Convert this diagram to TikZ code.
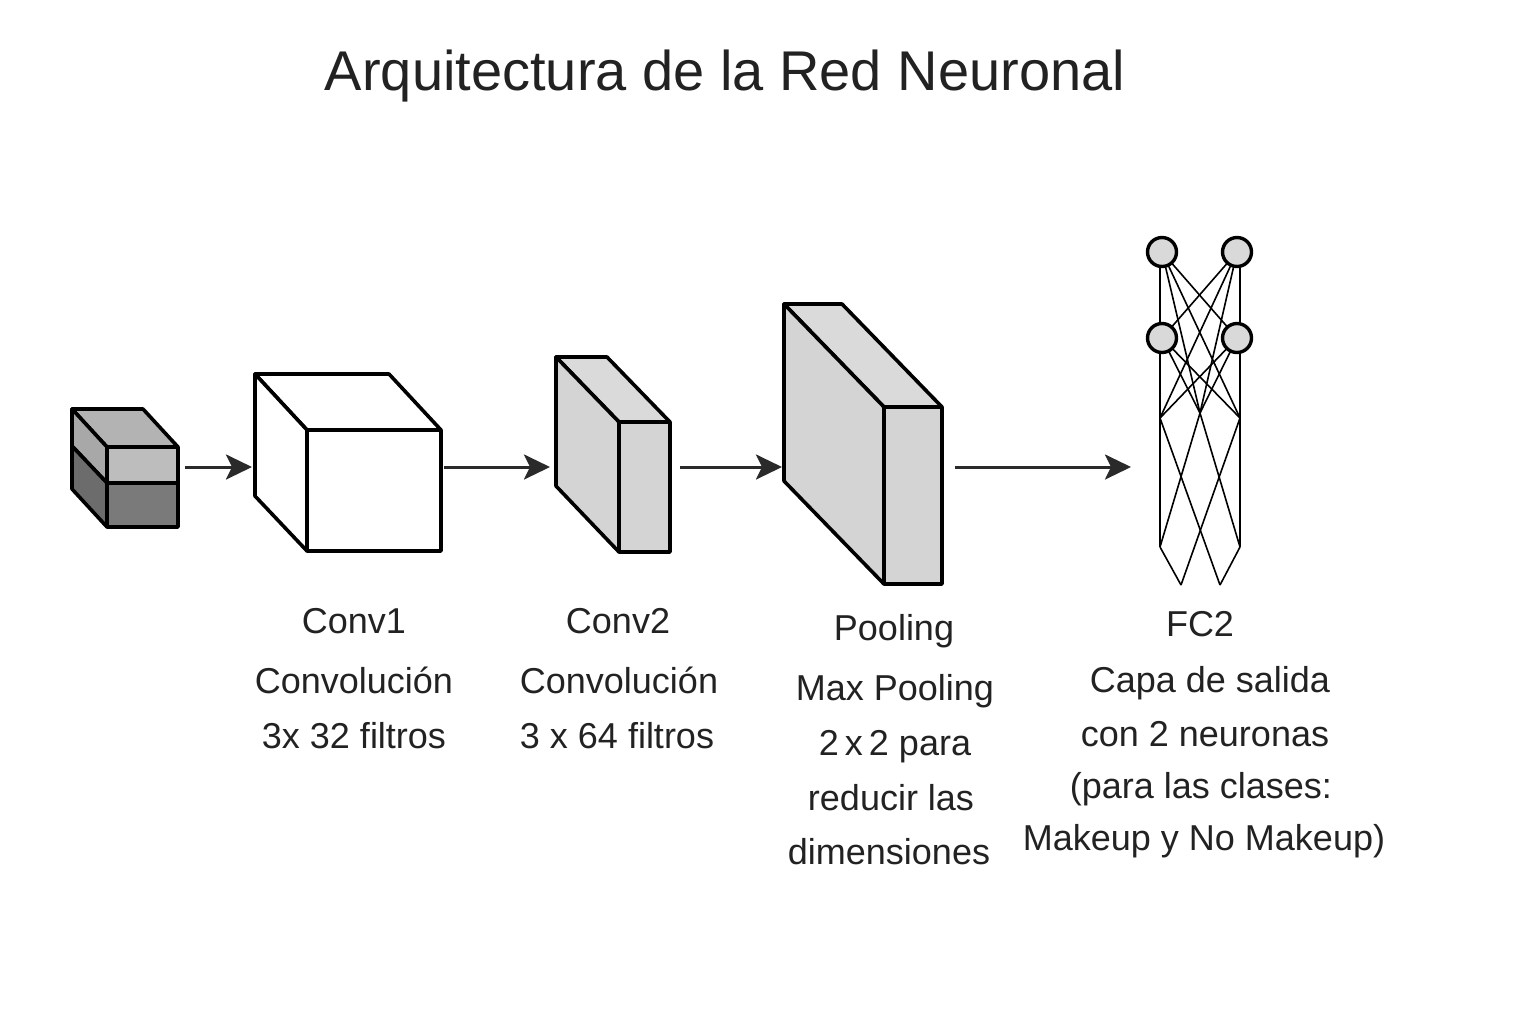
\documentclass[tikz,border=0pt]{standalone}
\usepackage{fontspec}
\setmainfont{Liberation Sans}
\usetikzlibrary{arrows.meta}
\definecolor{ink}{HTML}{222222}
\definecolor{arrink}{HTML}{2a2a2a}
\definecolor{slab}{HTML}{D4D4D4}
\definecolor{slabtop}{HTML}{DADADA}
\definecolor{intop}{HTML}{B3B3B3}
\definecolor{infrontup}{HTML}{BDBDBD}
\definecolor{inleftup}{HTML}{A8A8A8}
\definecolor{infrontlo}{HTML}{7A7A7A}
\definecolor{inleftlo}{HTML}{6C6C6C}
\definecolor{neurgray}{HTML}{D9D9D9}
\begin{document}
\begin{tikzpicture}[x=0.5pt,y=-0.5pt,
  edge/.style={draw=black, line width=1.8pt, line join=round},
  arr/.style={draw=arrink, line width=1.5pt, -{Stealth[length=13pt,width=12.5pt,inset=3pt]}},
  lbl/.style={font=\fontsize{18}{22}\selectfont, text=ink, anchor=base, inner sep=0pt},
  ttl/.style={font=\fontsize{28}{32}\selectfont, text=ink, anchor=base, inner sep=0pt},
  neuron/.style={circle, draw=black, line width=1.7pt, fill=neurgray, minimum size=14.5pt, inner sep=0pt},
  wire/.style={draw=black, line width=0.8pt}]
\useasboundingbox (0,0) rectangle (1536,1024);
\fill[white] (0,0) rectangle (1536,1024);

% title
\node[ttl] (title) at (725,90) {Arquitectura de la Red Neuronal};

% input cube
\filldraw[edge, fill=intop] (72,409) -- (143,409) -- (178,447) -- (107,447) -- cycle;
\filldraw[edge, fill=inleftup] (72,409) -- (107,447) -- (107,483) -- (72,446) -- cycle;
\filldraw[edge, fill=inleftlo] (72,446) -- (107,483) -- (107,527) -- (72,489) -- cycle;
\filldraw[edge, fill=infrontup] (107,447) rectangle (178,483);
\filldraw[edge, fill=infrontlo] (107,483) rectangle (178,527);

% conv1 cube
\filldraw[edge, fill=white] (255,374) -- (389,374) -- (441,430) -- (307,430) -- cycle;
\filldraw[edge, fill=white] (255,374) -- (307,430) -- (307,551) -- (255,496) -- cycle;
\filldraw[edge, fill=white] (307,430) rectangle (441,551);

% conv2 slab
\filldraw[edge, fill=slabtop] (556,357) -- (607,357) -- (670,422) -- (619,422) -- cycle;
\filldraw[edge, fill=slab] (556,357) -- (619,422) -- (619,552) -- (556,486) -- cycle;
\filldraw[edge, fill=slab] (619,422) rectangle (670,552);

% pooling slab
\filldraw[edge, fill=slabtop] (784,304) -- (842,304) -- (942,407) -- (884,407) -- cycle;
\filldraw[edge, fill=slab] (784,304) -- (884,407) -- (884,584) -- (784,481) -- cycle;
\filldraw[edge, fill=slab] (884,407) rectangle (942,584);

% arrow anchor points
\coordinate (in_e) at (185,467);
\coordinate (c1_w) at (252,467);
\coordinate (c1_e) at (444,467);
\coordinate (c2_w) at (550,467);
\coordinate (c2_e) at (680,467);
\coordinate (pl_w) at (782,467);
\coordinate (pl_e) at (955,467);
\coordinate (fc_w) at (1131,467);
\draw[arr] (in_e) -- (c1_w);
\draw[arr] (c1_e) -- (c2_w);
\draw[arr] (c2_e) -- (pl_w);
\draw[arr] (pl_e) -- (fc_w);

% fully connected sketch
\coordinate (T1) at (1162,252);
\coordinate (T2) at (1237,252);
\coordinate (M1) at (1162,338);
\coordinate (M2) at (1237,338);
\coordinate (A1) at (1160,418);
\coordinate (A2) at (1200,413);
\coordinate (A3) at (1240,418);
\coordinate (B1) at (1160,547);
\coordinate (B2) at (1240,547);
\coordinate (C1) at (1181,585);
\coordinate (C2) at (1220,585);
\coordinate (T1b) at (1160,252);
\coordinate (T2b) at (1240,252);
\draw[wire] (T1b) -- (B1);
\draw[wire] (T2b) -- (B2);
\draw[wire] (T1) -- (A2);
\draw[wire] (T1) -- (A3);
\draw[wire] (T1) -- (M2);
\draw[wire] (T2) -- (A2);
\draw[wire] (T2) -- (A1);
\draw[wire] (T2) -- (M1);
\draw[wire] (M1) -- (A2);
\draw[wire] (M1) -- (A3);
\draw[wire] (M2) -- (A2);
\draw[wire] (M2) -- (A1);
\draw[wire] (A1) -- (C2);
\draw[wire] (A3) -- (C1);
\draw[wire] (A2) -- (B1);
\draw[wire] (A2) -- (B2);
\draw[wire] (B1) -- (C1);
\draw[wire] (B2) -- (C2);
\node[neuron] (n1) at (T1) {};
\node[neuron] (n2) at (T2) {};
\node[neuron] (n3) at (M1) {};
\node[neuron] (n4) at (M2) {};

% labels
\node[lbl] (c1a) at (354,633) {Conv1};
\node[lbl] (c1b) at (354,693) {Convolución};
\node[lbl] (c1c) at (354,748) {3x 32 filtros};

\node[lbl] (c2a) at (618,633) {Conv2};
\node[lbl] (c2b) at (619,693) {Convolución};
\node[lbl] (c2c) at (617,748) {3 x 64 filtros};

\node[lbl] (pla) at (894,640) {Pooling};
\node[lbl] (plb) at (895,700) {Max Pooling};
\node[lbl] (plc) at (895,755) {2\,x\,2 para};
\node[lbl] (pld) at (891,810) {reducir las};
\node[lbl] (ple) at (889,864) {dimensiones};

\node[lbl] (fca) at (1200,636) {FC2};
\node[lbl] (fcb) at (1210,692) {Capa de salida};
\node[lbl] (fcc) at (1205,746) {con 2 neuronas};
\node[lbl] (fcd) at (1201,798) {(para las clases:};
\node[lbl] (fce) at (1204,850) {Makeup y No Makeup)};
\end{tikzpicture}
\end{document}
